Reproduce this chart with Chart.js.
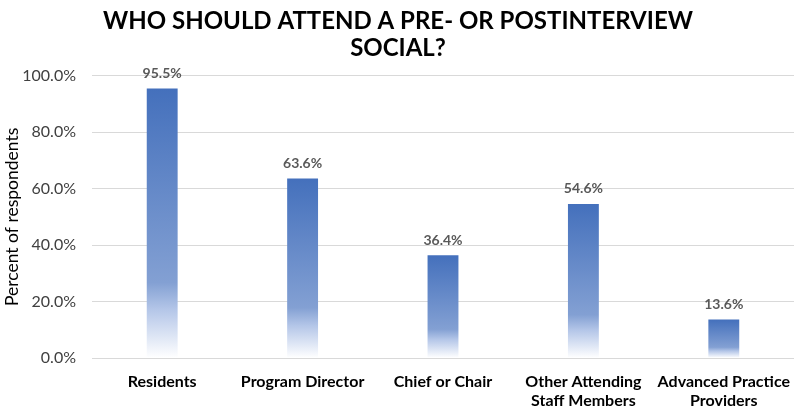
<!DOCTYPE html>
<html>
<head>
<meta charset="utf-8">
<title>Who should attend a pre- or postinterview social?</title>
<script src="https://cdn.jsdelivr.net/npm/chart.js@4.4.1/dist/chart.umd.min.js"></script>
<style>
    html, body { margin: 0; padding: 0; background: #fff; }
    #wrap { width: 800px; height: 409px; }
</style>
</head>
<body>
<div id="wrap"><canvas id="chart"></canvas></div>
<script>
// ── Data ──────────────────────────────────────────────
const categories = [
    'Residents',
    'Program Director',
    'Chief or Chair',
    ['Other Attending', 'Staff Members'],
    ['Advanced Practice', 'Providers']
];
const percentValues = [95.5, 63.6, 36.4, 54.6, 13.6];
const yTicks = [0, 20, 40, 60, 80, 100];

const FONT = "Lato, 'Open Sans', sans-serif";

// ── Per-bar vertical gradient (blue top → white bottom) ──
function barGradient(context) {
    const chart = context.chart;
    const { ctx, chartArea, scales } = chart;
    if (!chartArea || context.raw == null) return '#4472C4';
    const top = scales.y.getPixelForValue(context.raw);
    const base = scales.y.getPixelForValue(0);
    const g = ctx.createLinearGradient(0, top, 0, base);
    g.addColorStop(0, '#4470BC');
    g.addColorStop(0.72, '#83A0D3');
    g.addColorStop(0.82, '#B4C6E8');
    g.addColorStop(1, '#FFFFFF');
    return g;
}

// ── Value labels above the bars ──────────────────────
const valueLabels = {
    id: 'valueLabels',
    afterDatasetsDraw(chart) {
        const { ctx } = chart;
        const meta = chart.getDatasetMeta(0);
        ctx.save();
        ctx.font = `bold 14px ${FONT}`;
        ctx.fillStyle = '#595959';
        ctx.textAlign = 'center';
        ctx.textBaseline = 'middle';
        meta.data.forEach((bar, i) => {
            ctx.fillText(percentValues[i].toFixed(1) + '%', bar.x, bar.y - 15);
        });
        ctx.restore();
    }
};

new Chart(document.getElementById('chart'), {
    type: 'bar',
    data: {
        labels: categories,
        datasets: [{
            data: percentValues,
            backgroundColor: barGradient,
            borderWidth: 0,
            categoryPercentage: 1,
            barPercentage: 0.22
        }]
    },
    options: {
        responsive: true,
        maintainAspectRatio: false,
        animation: false,
        layout: { padding: { left: 2, right: 6, top: 8, bottom: 0 } },
        plugins: {
            legend: { display: false },
            tooltip: { enabled: false },
            title: {
                display: true,
                text: ['WHO SHOULD ATTEND A PRE- OR POSTINTERVIEW', 'SOCIAL?'],
                color: '#000',
                font: { family: FONT, size: 24, weight: 'bold', lineHeight: 1.12 },
                padding: { top: 0, bottom: 14 }
            }
        },
        scales: {
            y: {
                min: 0,
                max: 100,
                afterBuildTicks(scale) {
                    scale.ticks = yTicks.map(v => ({ value: v }));
                },
                afterFit(scale) { scale.width = 90; },
                ticks: {
                    color: '#404040',
                    font: { family: FONT, size: 16 },
                    padding: 16,
                    callback: v => v.toFixed(1) + '%'
                },
                grid: { color: '#D9D9D9', drawTicks: false },
                border: { display: false },
                title: {
                    display: true,
                    text: 'Percent of respondents',
                    color: '#000',
                    font: { family: FONT, size: 17.5 },
                    padding: 0
                }
            },
            x: {
                afterFit(scale) { scale.height = 51; },
                grid: { display: false },
                border: { display: false },
                ticks: {
                    color: '#000',
                    font: { family: FONT, size: 16, weight: 'bold', lineHeight: 1.2 },
                    padding: 6,
                    maxRotation: 0,
                    autoSkip: false
                }
            }
        }
    },
    plugins: [valueLabels]
});
</script>
</body>
</html>
